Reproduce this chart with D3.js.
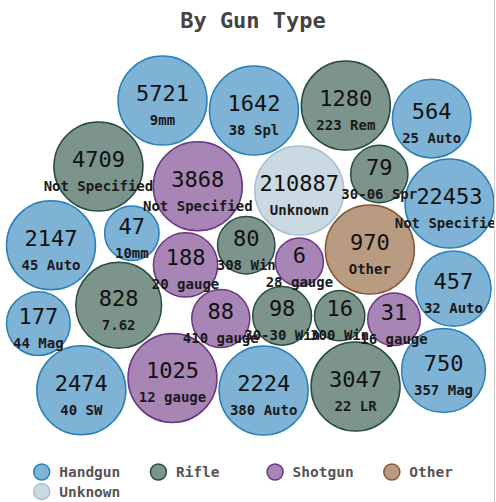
<!DOCTYPE html>
<html>
<head>
<meta charset="utf-8">
<script src="https://cdn.jsdelivr.net/npm/d3@7"></script>
<style>
  body { margin: 0; background: #fff; }
  svg { display: block; }
  text { font-family: "DejaVu Sans Mono", "Liberation Mono", monospace; }
</style>
</head>
<body>
<svg id="chart" width="496" height="502"></svg>
<script>
// Incident counts by caliber, grouped by gun type
const gunCounts = [6, 188, 80, 98, 47, 970, 88, 3868, 31, 828, 210887, 3047, 4709, 22453,
  1025, 1642, 16, 177, 79, 2224, 5721, 457, 2474, 1280, 750, 2147, 564];
const gunLabels = ["28 gauge", "20 gauge", "308 Win", "30-30 Win", "10mm", "Other", "410 gauge",
  "Not Specified", "16 gauge", "7.62", "Unknown", "22 LR", "Not Specified", "Not Specified", "12 gauge",
  "38 Spl", "300 Win", "44 Mag", "30-06 Spr", "380 Auto", "9mm", "32 Auto", "40 SW", "223 Rem",
  "357 Mag", "45 Auto", "25 Auto"];
const gunTypes = ["Shotgun", "Shotgun", "Rifle", "Rifle", "Handgun", "Other", "Shotgun", "Shotgun",
  "Shotgun", "Rifle", "Unknown", "Rifle", "Rifle", "Handgun", "Shotgun", "Handgun", "Rifle", "Handgun",
  "Rifle", "Handgun", "Handgun", "Handgun", "Handgun", "Rifle", "Handgun", "Handgun", "Handgun"];
const legendTypes = ["Handgun", "Rifle", "Shotgun", "Other", "Unknown"];
const typeColors = ["#2980b9", "#264d3f", "#6c3483", "#8a582f", "#a9bfcf"];

const W = 494, H = 502;
const svg = d3.select("#chart");

const color = d3.scaleOrdinal().domain(legendTypes).range(typeColors);
const rScale = d3.scaleSqrt().domain([0, 960]).range([22.3, 44.5]).clamp(true);

// Bubble area: centre and half extents of the packing box
const cx = 251.5, cy = 246.5, halfW = 245, halfH = 190.5;

const nodes = gunCounts.map((v, i) => ({
  value: v, label: gunLabels[i], type: gunTypes[i], r: rScale(v)
}));

const collide = d3.forceCollide().strength(1).iterations(4);
const TICKS = 500;
const sim = d3.forceSimulation(nodes)
  .alphaDecay(1 - Math.pow(0.001, 1 / TICKS))
  .force("x", d3.forceX(0).strength(0.045))
  .force("y", d3.forceY(0).strength(0.08))
  .force("collide", collide)
  .stop();

// Bubbles grow from small to full size while the layout settles
for (let k = 0; k < TICKS; k++) {
  const grow = Math.min(1, 0.15 + k / 150);
  collide.radius(d => d.r * grow + 1.5);
  sim.tick();
  nodes.forEach(d => {
    d.x = Math.max(-halfW + d.r, Math.min(halfW - d.r, d.x));
    d.y = Math.max(-halfH + d.r, Math.min(halfH - d.r, d.y));
  });
}

svg.append("clipPath").attr("id", "clip")
  .append("rect").attr("width", W).attr("height", H);

const plot = svg.append("g").attr("clip-path", "url(#clip)")
  .append("g").attr("transform", `translate(${cx},${cy})`);

plot.selectAll("circle.bubble").data(nodes).join("circle")
  .attr("class", "bubble")
  .attr("cx", d => d.x).attr("cy", d => d.y).attr("r", d => d.r)
  .attr("fill", d => color(d.type)).attr("fill-opacity", 0.6)
  .attr("stroke", d => color(d.type)).attr("stroke-width", 1.5);

const labels = plot.selectAll("g.lbl").data(nodes).join("g")
  .attr("class", "lbl")
  .attr("transform", d => `translate(${d.x},${d.y})`)
  .attr("text-anchor", "middle");

labels.append("text")
  .attr("y", 0.5)
  .attr("font-size", 22)
  .attr("fill", "#111")
  .text(d => d.value);

labels.append("text")
  .attr("y", 24.5)
  .attr("font-size", 14)
  .attr("font-weight", "bold")
  .attr("fill", "#1a1a1a")
  .text(d => d.label);

// Title
svg.append("text")
  .attr("x", 253).attr("y", 28)
  .attr("text-anchor", "middle")
  .attr("font-size", 22).attr("font-weight", "bold")
  .attr("fill", "#444")
  .text("By Gun Type");

// Legend, four entries per row
const legend = svg.append("g").selectAll("g").data(legendTypes).join("g")
  .attr("transform", (d, i) => `translate(${41.7 + (i % 4) * 116.7},${472 + Math.floor(i / 4) * 19.5})`);

legend.append("circle")
  .attr("r", 8)
  .attr("fill", d => color(d)).attr("fill-opacity", 0.6)
  .attr("stroke", d => color(d)).attr("stroke-width", 1.5);

legend.append("text")
  .attr("x", 17.5).attr("y", 5)
  .attr("font-size", 14.5).attr("font-weight", "bold")
  .attr("fill", "#555")
  .text(d => d);

// Frame edge on the right
svg.append("line")
  .attr("x1", W + 0.5).attr("x2", W + 0.5).attr("y1", 0).attr("y2", H)
  .attr("stroke", "#ccc");
</script>
</body>
</html>
